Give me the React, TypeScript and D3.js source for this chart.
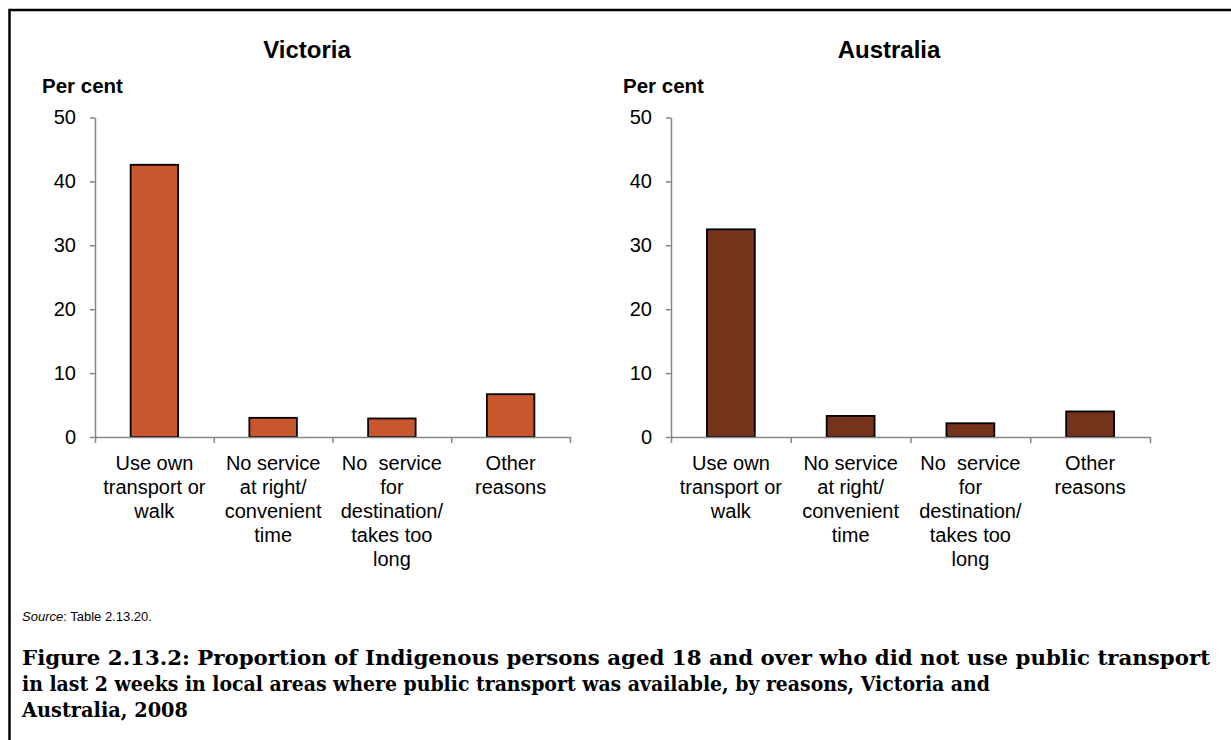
import { useEffect, useRef } from "react";
import * as d3 from "d3";

// reasons (x categories), with the line breaks used under the axis
const reasons = ["own", "time", "destination", "other"];
const reasonLabels = [
  ["Use own", "transport or", "walk"],
  ["No service", "at right/", "convenient", "time"],
  ["No  service", "for", "destination/", "takes too", "long"],
  ["Other", "reasons"],
];

// per cent of Indigenous persons aged 18+
const victoria = [42.6, 3.0, 2.9, 6.7];
const australia = [32.5, 3.3, 2.15, 4.0];

const yTicks = [0, 10, 20, 30, 40, 50];

const captionLines = [
  "Figure 2.13.2: Proportion of Indigenous persons aged 18 and over who did not use public transport",
  "in last 2 weeks in local areas where public transport was available, by reasons, Victoria and",
  "Australia, 2008",
];
// width each caption line takes in the original layout
const captionWidths = [1188, 968, 166];

const SANS = "Arial, 'Liberation Sans', sans-serif";
const SERIF = "'Palatino Linotype', 'Book Antiqua', Palatino, 'DejaVu Serif', serif";

const W = 1231, H = 740;

export default function App() {
  const ref = useRef<SVGSVGElement>(null);

  useEffect(() => {
    document.body.style.margin = "0";
    document.body.style.overflow = "hidden";
    if (!ref.current) return;
    const svg = d3.select(ref.current);
    svg.selectAll("*").remove();

    svg.append("rect").attr("width", W).attr("height", H).attr("fill", "#fff");

    // frame (right and bottom edges fall outside the picture)
    svg.append("path")
      .attr("d", `M9.5,${H + 5}V10H${W + 5}`)
      .attr("fill", "none").attr("stroke", "#000").attr("stroke-width", 2.5);

    const panels = [
      { title: "Victoria", values: victoria, color: "#C8572E", left: 95, right: 570, titleX: 307, unitX: 42 },
      { title: "Australia", values: australia, color: "#76331C", left: 671, right: 1150, titleX: 889, unitX: 623 },
    ];

    const y = d3.scaleLinear().domain([0, 50]).range([437, 117.5]);

    panels.forEach((p) => {
      const g = svg.append("g");
      const x = d3.scaleBand().domain(reasons).range([p.left, p.right]);
      const xb = d3.scaleLinear().domain([0, reasons.length]).range([p.left, p.right]);
      const bw = x.bandwidth() * 0.4;

      g.append("text").attr("x", p.titleX).attr("y", 58)
        .attr("text-anchor", "middle").style("font-family", SANS)
        .style("font-size", "24px").style("font-weight", "bold").text(p.title);

      g.append("text").attr("x", p.unitX).attr("y", 93)
        .style("font-family", SANS).style("font-size", "20.5px")
        .style("font-weight", "bold").text("Per cent");

      // bars
      g.selectAll("rect.bar").data(p.values).join("rect")
        .attr("class", "bar")
        .attr("x", (_, i) => x(reasons[i])! + (x.bandwidth() - bw) / 2)
        .attr("y", (d) => y(d))
        .attr("width", bw)
        .attr("height", (d) => y(0) - y(d))
        .attr("fill", p.color)
        .attr("stroke", "#000").attr("stroke-width", 1.8);

      // y axis
      const ya = g.append("g").attr("transform", `translate(${p.left},0)`)
        .call(d3.axisLeft(y).tickValues(yTicks).tickSize(5).tickSizeOuter(0).tickPadding(14));
      ya.select(".domain").attr("stroke", "#868686").attr("stroke-width", 1.5);
      ya.selectAll(".tick line").attr("stroke", "#868686").attr("stroke-width", 1.5);
      ya.selectAll(".tick text").attr("fill", "#000")
        .style("font-family", SANS).style("font-size", "20px");

      // x axis with ticks between categories
      const xa = g.append("g").attr("transform", `translate(0,${y(0)})`)
        .call(d3.axisBottom(xb).tickValues(d3.range(reasons.length + 1))
          .tickFormat(() => "").tickSize(6).tickSizeOuter(0));
      xa.select(".domain").attr("stroke", "#868686").attr("stroke-width", 1.5);
      xa.selectAll(".tick line").attr("stroke", "#868686").attr("stroke-width", 1.5);

      // category labels
      reasons.forEach((r, i) => {
        const t = g.append("text").attr("text-anchor", "middle")
          .style("font-family", SANS).style("font-size", "20px")
          .style("white-space", "pre");
        reasonLabels[i].forEach((line, j) => {
          t.append("tspan").attr("x", x(r)! + x.bandwidth() / 2)
            .attr("y", 470 + j * 24).text(line);
        });
      });
    });

    const src = svg.append("text").attr("x", 22).attr("y", 621)
      .style("font-family", SANS).style("font-size", "13px");
    src.append("tspan").style("font-style", "italic").text("Source");
    src.append("tspan").text(": Table 2.13.20.");

    captionLines.forEach((line, i) => {
      svg.append("text").attr("x", 22).attr("y", 665 + i * 26)
        .attr("textLength", captionWidths[i]).attr("lengthAdjust", "spacingAndGlyphs")
        .style("font-family", SERIF).style("font-size", "20px")
        .style("font-weight", "bold").text(line);
    });
  }, []);

  return <svg ref={ref} width={W} height={H} style={{ display: "block" }} />;
}
